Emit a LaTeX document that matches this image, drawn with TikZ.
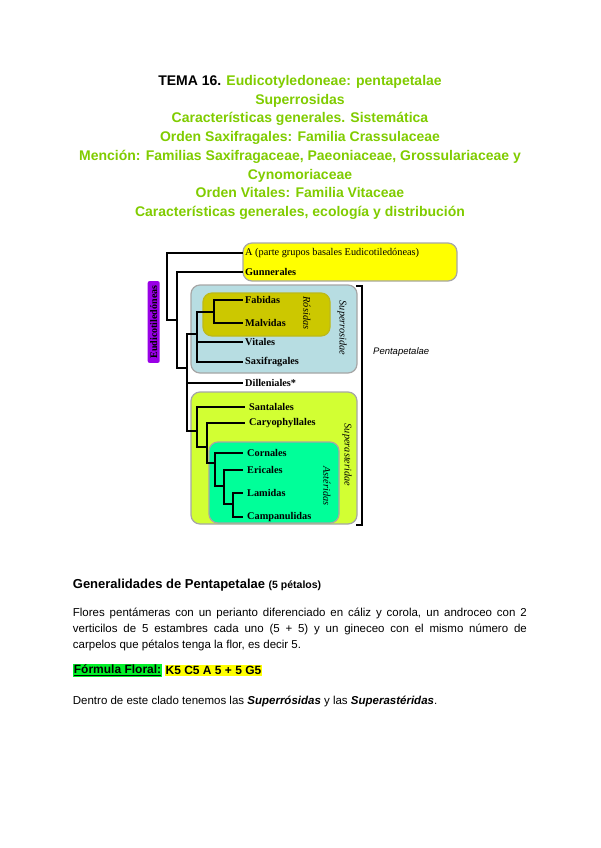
\documentclass[tikz,border=0pt]{standalone}
\usepackage{fontspec}
\setmainfont{Liberation Sans}
\newfontfamily\tnr{Liberation Serif}
\usepackage{xcolor}
\usetikzlibrary{positioning,calc}
\definecolor{lima}{RGB}{128,204,0}
\definecolor{violeta}{RGB}{153,0,230}
\definecolor{celeste}{RGB}{183,221,226}
\definecolor{oliva}{RGB}{204,200,0}
\definecolor{pistacho}{RGB}{210,255,51}
\definecolor{menta}{RGB}{0,255,153}
\definecolor{amarillo}{RGB}{255,255,0}
\definecolor{verde}{RGB}{0,240,40}

\begin{document}
\begin{tikzpicture}[x=1pt, y=-1pt, every edge/.append style={line width=1.8pt, to path={|- (\tikztotarget)}}, title/.style={anchor=base, inner sep=0pt, text=lima, font=\bfseries\fontsize{14}{16}\selectfont}, leaf/.style={anchor=west, inner sep=2pt, font=\tnr\bfseries\fontsize{10.3}{12}\selectfont}, clade/.style={draw=gray!70, line width=1.2pt, rounded corners=9pt}, tag/.style={inner sep=0pt, font=\tnr\itshape\fontsize{10.3}{12}\selectfont}, body/.style={anchor=west, inner sep=0pt, font=\fontsize{11.5}{15.7}\selectfont}]

\fill[white] (0,0) rectangle (600,848);
\useasboundingbox (0,0) rectangle (600,848);

% titulo
\node[title] (t1) at (300,85.5) {\color{black}TEMA 16. \color{lima}Eudicotyledoneae: pentapetalae};
\node[title] (t2) at (300,104.2) {Superrosidas};
\node[title] (t3) at (300,122.9) {Características generales. Sistemática};
\node[title] (t4) at (300,141.6) {Orden Saxifragales: Familia Crassulaceae};
\node[title] (t5) at (300,160.3) {Mención: Familias Saxifragaceae, Paeoniaceae, Grossulariaceae y};
\node[title] (t6) at (300,179) {Cynomoriaceae};
\node[title] (t7) at (300,197.7) {Orden Vitales: Familia Vitaceae};
\node[title] (t8) at (300,216.4) {Características generales, ecología y distribución};

% cajas de los clados
\path[clade, fill=amarillo] (243,243) rectangle (457,281);
\path[clade, fill=celeste] (191,285) rectangle (357,373);
\path[clade, fill=oliva, draw=oliva!80!gray] (203,293) rectangle (330,336);
\path[clade, fill=pistacho] (191,392) rectangle (357,524);
\path[clade, fill=menta] (209,442) rectangle (339,523);

% nodos internos
\coordinate (n0) at (167,286);
\coordinate (n1) at (177,320);
\coordinate (n2) at (187,368);
\coordinate (n3) at (197,334);
\coordinate (n4) at (214,312);
\coordinate (n5) at (197,431);
\coordinate (n6) at (207,447);
\coordinate (n7) at (215,463);
\coordinate (n8) at (224,486);
\coordinate (n9) at (233,504);

% hojas
\node[leaf, font=\tnr\fontsize{10.3}{12}\selectfont] (a) at (243,253) {A (parte grupos basales Eudicotiledóneas)};
\node[leaf] (gun) at (243,272) {Gunnerales};
\node[leaf] (fab) at (243,300) {Fabidas};
\node[leaf] (mal) at (243,323) {Malvidas};
\node[leaf] (vit) at (243,342) {Vitales};
\node[leaf] (sax) at (243,362) {Saxifragales};
\node[leaf] (dil) at (243,383) {Dilleniales*};
\node[leaf, inner sep=4pt] (san) at (245,407) {Santalales};
\node[leaf, inner sep=4pt] (car) at (245,423) {Caryophyllales};
\node[leaf, inner sep=4pt] (cor) at (243,453) {Cornales};
\node[leaf, inner sep=4pt] (eri) at (243,470) {Ericales};
\node[leaf, inner sep=4pt] (lam) at (243,493) {Lamidas};
\node[leaf, inner sep=4pt] (cam) at (243,517) {Campanulidas};

\path
    (n0) edge (a.west)
    (n0) edge (n1)
    (n1) edge (gun.west)
    (n1) edge (n2)
    (n2) edge (n3)
    (n2) edge (dil.west)
    (n2) edge (n5)
    (n3) edge (n4)
    (n3) edge (vit.west)
    (n3) edge (sax.west)
    (n4) edge (fab.west)
    (n4) edge (mal.west)
    (n5) edge (san.west)
    (n5) edge (n6)
    (n6) edge (car.west)
    (n6) edge (n7)
    (n7) edge (cor.west)
    (n7) edge (n8)
    (n8) edge (eri.west)
    (n8) edge (n9)
    (n9) edge (lam.west)
    (n9) edge (cam.west);

% etiquetas
\node[tag, rotate=-90] (ros) at (307,313) {Rósidas};
\node[tag, rotate=-90] (srs) at (342,328) {Superrosidae};
\node[tag, rotate=-90] (ast) at (327,486) {Astéridas};
\node[tag, rotate=-90] (sas) at (347,455) {Superasteridae};
\node[fill=violeta, rounded corners=2pt, rotate=90, inner xsep=4.5pt, inner ysep=2.5pt, font=\tnr\bfseries\fontsize{10}{12}\selectfont] (eud) at (153.7,322) {Eudicotiledóneas};
\draw[line width=1.8pt] (356,286) -- (362,286) -- (362,525) -- (356,525);
\node[anchor=west, inner sep=0pt, font=\itshape\fontsize{9.5}{11}\selectfont] (pen) at (373,352) {Pentapetalae};

% texto
\node[body, font=\bfseries\fontsize{13}{15}\selectfont] (gen) at (72.7,585) {Generalidades de Pentapetalae {\fontsize{10.5}{12}\selectfont(5 pétalos)}};
\node[anchor=north west, inner sep=0pt, text width=454pt, align=justify, font=\fontsize{11.5}{15.7}\selectfont] (par) at (72.7,605.5) {\strut Flores pentámeras con un perianto diferenciado en cáliz y corola, un androceo con 2\linebreak verticilos de 5 estambres cada uno (5 + 5) y un gineceo con el mismo número de\linebreak carpelos que pétalos tenga la flor, es decir 5.};
\node[body, fill=verde, inner xsep=1pt, inner ysep=1.5pt, font=\bfseries\fontsize{12}{14}\selectfont] (ff) at (72.7,670.5) {\underline{Fórmula Floral:}};
\node[fill=amarillo, inner xsep=1pt, inner ysep=1.5pt, font=\bfseries\fontsize{12}{14}\selectfont, right=2pt of ff] (kf) {K5 C5 A 5 + 5 G5};
\node[body] (den) at (72.7,701.7) {Dentro de este clado tenemos las \textbf{\textit{Superrósidas}} y las \textbf{\textit{Superastéridas}}.};
\end{tikzpicture}
\end{document}
